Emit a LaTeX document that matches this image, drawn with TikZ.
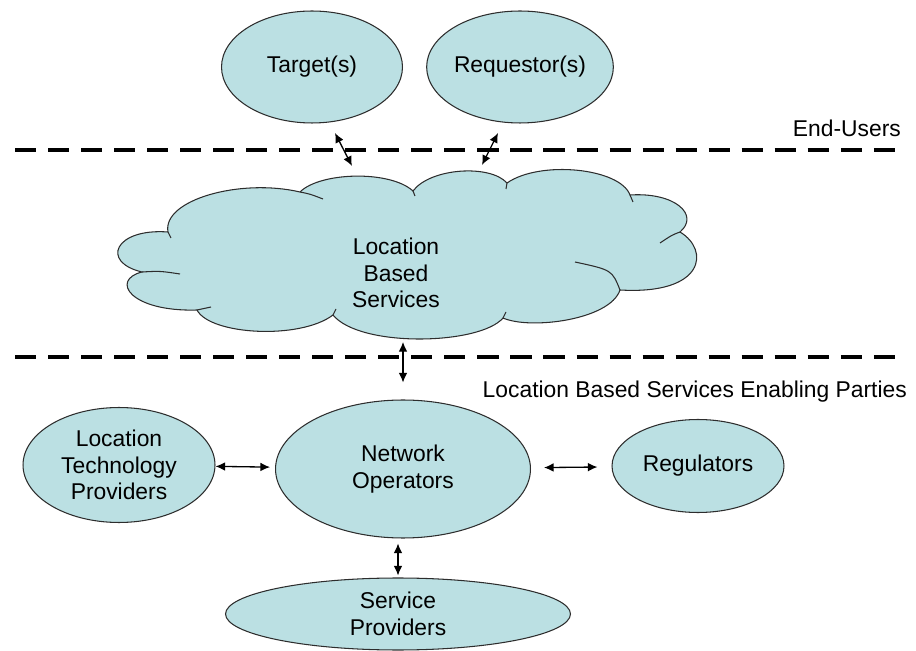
\documentclass[tikz,border=0pt]{standalone}
\usepackage{fontspec}
\setmainfont{Liberation Sans}
\usetikzlibrary{arrows,%
                arrows.meta,%
                shapes.geometric}
\definecolor{partyblue}{RGB}{187,224,227}
\definecolor{rimgray}{RGB}{45,45,45}

\begin{document}
\begin{tikzpicture}[x=0.02cm,y=-0.02cm,
  every node/.style={font=\fontsize{13}{15}\selectfont,align=center}]
  \useasboundingbox (0,0) rectangle (916,651);
  \tikzstyle{Party}=[ellipse,draw=rimgray,line width=0.6pt,fill=partyblue,inner sep=0pt]
  \tikzstyle{Rim}=[draw=rimgray,line width=0.6pt]
  \tikzstyle{Border}=[line width=2.6pt,dash pattern=on 12pt off 6.8pt]
  \tikzstyle{Link}=[{Latex[length=5.5pt,width=5pt]}-{Latex[length=5.5pt,width=5pt]},line width=0.75pt]
  \node[Party,minimum width=3.62cm,minimum height=2.24cm] (T) at (312,67) {Target(s)};
  \node[Party,minimum width=3.66cm,minimum height=2.24cm] (R) at (520,67) {Requestor(s)};
  \node[anchor=east] (EU) at (907,128) {End-Users};
  \draw[Border] (15,150) -- (905,150);
  \filldraw[Rim,fill=partyblue]
    (168,232) .. controls (162,200) and (240,178) .. (300,192)
    .. controls (320,172) and (390,170) .. (413,191)
    .. controls (430,168) and (490,164) .. (507,183)
    .. controls (540,160) and (620,168) .. (630,195)
    .. controls (675,192) and (700,215) .. (680,232)
    .. controls (710,250) and (705,295) .. (620,290)
    .. controls (610,320) and (530,330) .. (503,318)
    .. controls (480,345) and (360,348) .. (333,315)
    .. controls (300,340) and (210,335) .. (197,310)
    .. controls (130,312) and (110,280) .. (142,272)
    .. controls (100,262) and (115,228) .. (168,232) -- cycle;
  \draw[Rim] (168,232) -- (171,238);
  \draw[Rim] (300,192) .. controls (310,194) .. (323,199);
  \draw[Rim] (413,191) -- (415,196);
  \draw[Rim] (507,183) -- (506,189);
  \draw[Rim] (630,195) -- (633,202);
  \draw[Rim] (680,232) .. controls (672,235) .. (660,243);
  \draw[Rim] (620,290) .. controls (612,270) .. (575,262);
  \draw[Rim] (503,318) -- (506,312);
  \draw[Rim] (333,315) -- (336,309);
  \draw[Rim] (197,310) -- (211,307);
  \draw[Rim] (142,272) .. controls (160,271) .. (180,274);
  \node (LBS) at (396,273) {Location\\Based\\Services};
  \draw[Border] (15,357) -- (905,357);
  \node[anchor=east] (EP) at (913,392) {Location Based Services Enabling Parties};
  \node[Party,minimum width=3.84cm,minimum height=2.3cm] (LTP) at (119,465) {Location\\Technology\\Providers};
  \node[Party,minimum width=5.1cm,minimum height=2.76cm] (NO) at (403,469) {Network\\Operators};
  \node[Party,minimum width=3.44cm,minimum height=1.86cm] (Reg) at (698,466) {Regulators};
  \node[Party,minimum width=6.9cm,minimum height=1.44cm] (SP) at (398,614) {Service\\Providers};
  \coordinate (t1) at (335,133);
  \coordinate (t2) at (352,166);
  \coordinate (r1) at (498,133);
  \coordinate (r2) at (482,165);
  \coordinate (c1) at (403,342);
  \draw[Link] (t1) -- (t2);
  \draw[Link] (r1) -- (r2);
  \draw[Link,shorten >=0.34cm] (c1) -- (c1 |- NO.north);
  \draw[Link,shorten >=0.1cm] (LTP) -- (NO);
  \draw[Link,shorten <=0.26cm,shorten >=0.28cm] (NO) -- (Reg);
  \draw[Link,shorten <=0.04cm,shorten >=0.1cm] (SP.north) -- (SP.north |- NO.south);
\end{tikzpicture}
\end{document}
